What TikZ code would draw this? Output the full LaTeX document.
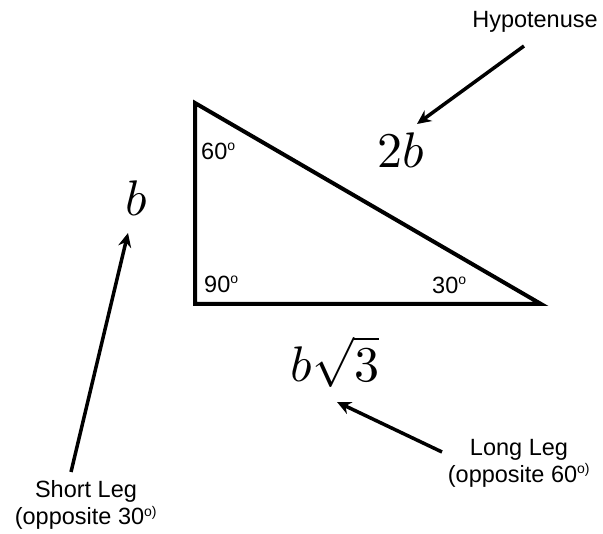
\documentclass[tikz,border=0pt]{standalone}
\usepackage{fontspec}
\usepackage{unicode-math}
\setmainfont{Liberation Sans}
\setmathfont{Latin Modern Math}
\usetikzlibrary{arrows.meta}
\tikzset{
  lbl/.style={font=\fontsize{23.5}{27}\selectfont, inner sep=0pt, align=center},
  mth/.style={font=\fontsize{50}{55}\selectfont, inner sep=0pt},
  ptr/.style={line width=3.5pt, -{Stealth[length=14pt,width=13pt]}},
  tri/.style={line width=4pt, line join=miter}
}
\newcommand{\dg}[1]{\textsuperscript{\fontsize{14}{14}\selectfont #1}}
\begin{document}
\begin{tikzpicture}[x=1pt,y=-1pt]
\path[use as bounding box, fill=white] (0,0) rectangle (603,534);
% triangle
\coordinate (A) at (195,103);
\coordinate (C) at (195,304);
\coordinate (B) at (541,304);
\draw[tri] (A) -- (C) -- (B) -- cycle;
% angle labels
\node[lbl, anchor=west] (a60) at (201,151) {60\dg{o}};
\node[lbl, anchor=west] (a90) at (204,284) {90\dg{o}};
\node[lbl, anchor=west] (a30) at (432,285) {30\dg{o}};
% side labels
\node[mth] (hyp) at (401,150) {$2b$};
\node[mth] (sl) at (137,198) {$b$};
\node[mth] (ll) at (335,362) {$b\sqrt{3}$};
% text labels
\node[lbl] (thyp) at (535,22) {Hypotenuse};
\node[lbl] (tsl) at (86,505) {Short Leg\\(opposite 30\dg{o)}};
\node[lbl] (tll) at (519,463) {Long Leg\\(opposite 60\dg{o)}};
% pointer start points
\coordinate (ph) at (524,46);
\coordinate (ps) at (71,472);
\coordinate (pl) at (442,452);
\coordinate (eh) at (417,124);
\coordinate (es) at (128,233);
\coordinate (el) at (337,402);
\draw[ptr] (ph) -- (eh);
\draw[ptr] (ps) -- (es);
\draw[ptr] (pl) -- (el);
\end{tikzpicture}
\end{document}
